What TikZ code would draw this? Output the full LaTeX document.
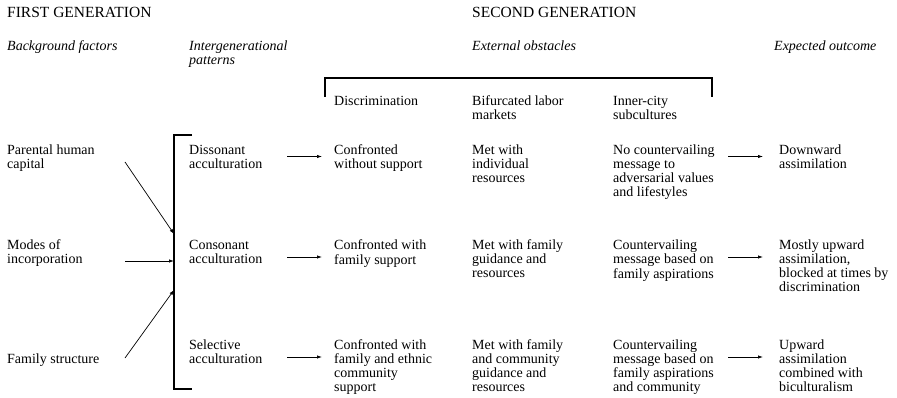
\documentclass[tikz,border=0pt]{standalone}
\usepackage{fontspec}
\setmainfont{Liberation Serif}
\usetikzlibrary{arrows.meta}
\newcommand\bodyfont{\fontsize{14}{14}\selectfont}
\newcommand\headfont{\fontsize{15.5}{16}\selectfont}
\newcommand\blk[1]{\begin{tabular}[t]{@{}l@{}}#1\end{tabular}}
\renewcommand\arraystretch{1}
\begin{document}
\begin{tikzpicture}[x=1pt,y=-1pt,
  txt/.style={anchor=base west,inner sep=0pt,font=\bodyfont},
  head/.style={anchor=base west,inner sep=0pt,font=\headfont},
  ital/.style={anchor=base west,inner sep=0pt,font=\bodyfont\itshape},
  arr/.style={-{Latex[length=5pt,width=3.4pt]},line width=0.7pt},
  brk/.style={line width=1.1pt}]
\useasboundingbox (0,0) rectangle (897,398);
% headings
\node[head] (h1) at (7,17.3) {FIRST GENERATION};
\node[head] (h2) at (472,17.3) {SECOND GENERATION};
\node[ital] (i1) at (7,51) {Background factors};
\node[ital] (i2) at (189,51) {\blk{Intergenerational\\patterns}};
\node[ital] (i3) at (472,51) {External obstacles};
\node[ital] (i4) at (774,51) {Expected outcome};
% obstacle headers
\node[txt] (c1) at (334,106) {Discrimination};
\node[txt] (c2) at (472,106) {\blk{Bifurcated labor\\markets}};
\node[txt] (c3) at (613,106) {\blk{Inner-city\\subcultures}};
% top bracket
\coordinate (tb1) at (325,97);
\coordinate (tb2) at (325,78);
\coordinate (tb3) at (712,78);
\coordinate (tb4) at (712,97);
\draw[brk] (tb1) -- (tb2) -- (tb3) -- (tb4);
% row 1
\node[txt] (p1) at (7,154.3) {\blk{Parental human\\capital}};
\node[txt] (d1) at (189,154.3) {\blk{Dissonant\\acculturation}};
\node[txt] (e1) at (334,154.3) {\blk{Confronted\\without support}};
\node[txt] (m1) at (472,154.3) {\blk{Met with\\individual\\resources}};
\node[txt] (n1) at (613,154.3) {\blk{No countervailing\\message to\\adversarial values\\and lifestyles}};
\node[txt] (o1) at (779,154.3) {\blk{Downward\\assimilation}};
% row 2
\node[txt] (p2) at (7,250) {\blk{Modes of\\incorporation}};
\node[txt] (d2) at (189,250) {\blk{Consonant\\acculturation}};
\node[txt] (e2) at (334,250) {\blk{Confronted with\\family support}};
\node[txt] (m2) at (472,250) {\blk{Met with family\\guidance and\\resources}};
\node[txt] (n2) at (613,250) {\blk{Countervailing\\message based on\\family aspirations}};
\node[txt] (o2) at (779,250) {\blk{Mostly upward\\assimilation,\\blocked at times by\\discrimination}};
% row 3
\node[txt] (p3) at (7,363.5) {Family structure};
\node[txt] (d3) at (189,349.5) {\blk{Selective\\acculturation}};
\node[txt] (e3) at (334,349.5) {\blk{Confronted with\\family and ethnic\\community\\support}};
\node[txt] (m3) at (472,349.5) {\blk{Met with family\\and community\\guidance and\\resources}};
\node[txt] (n3) at (613,349.5) {\blk{Countervailing\\message based on\\family aspirations\\and community}};
\node[txt] (o3) at (779,349.5) {\blk{Upward\\assimilation\\combined with\\biculturalism}};
% big bracket
\coordinate (bk1) at (192,135);
\coordinate (bk2) at (174,135);
\coordinate (bk3) at (174,389);
\coordinate (bk4) at (192,389);
\draw[brk] (bk1) -- (bk2) -- (bk3) -- (bk4);
% arrows into bracket
\coordinate (a1s) at (125,162);
\coordinate (a1e) at (174,234);
\coordinate (a2s) at (125,261);
\coordinate (a2e) at (174,261);
\coordinate (a3s) at (125,358);
\coordinate (a3e) at (174,290);
\draw[arr] (a1s) -- (a1e);
\draw[arr] (a2s) -- (a2e);
\draw[arr] (a3s) -- (a3e);
% row arrows
\coordinate (r1a) at (287,156.5); \coordinate (r1b) at (322,156.5);
\coordinate (r1c) at (728,156.5); \coordinate (r1d) at (763,156.5);
\coordinate (r2a) at (287,257); \coordinate (r2b) at (322,257);
\coordinate (r2c) at (728,257); \coordinate (r2d) at (763,257);
\coordinate (r3a) at (287,357); \coordinate (r3b) at (322,357);
\coordinate (r3c) at (728,357); \coordinate (r3d) at (763,357);
\draw[arr] (r1a) -- (r1b);
\draw[arr] (r1c) -- (r1d);
\draw[arr] (r2a) -- (r2b);
\draw[arr] (r2c) -- (r2d);
\draw[arr] (r3a) -- (r3b);
\draw[arr] (r3c) -- (r3d);
\end{tikzpicture}
\end{document}
